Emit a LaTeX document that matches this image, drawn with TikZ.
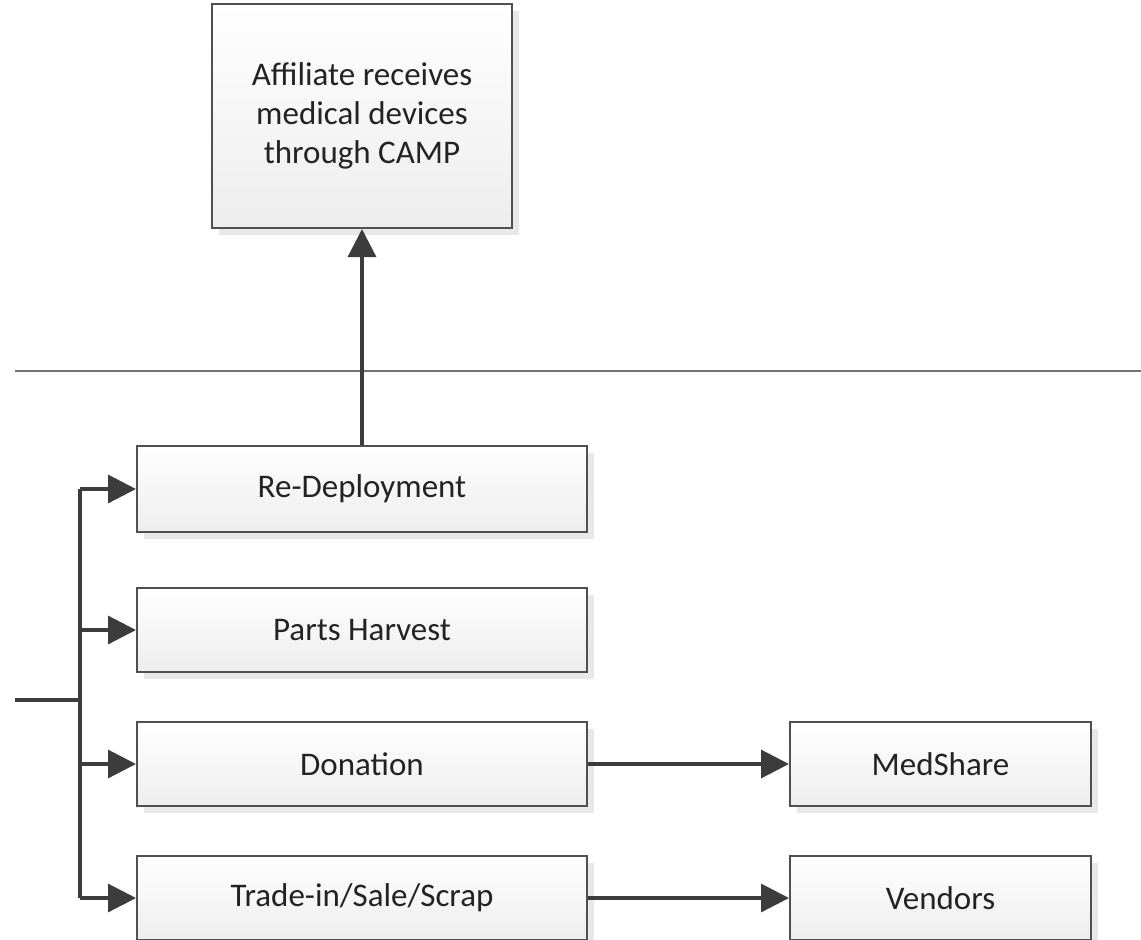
\documentclass[tikz,border=0pt]{standalone}
\usepackage{fontspec}
\setmainfont{Carlito}
\usepackage{xcolor}
\usepackage{tikz}
\usetikzlibrary{arrows.meta, positioning, shadows}
\definecolor{boxline}{RGB}{80, 80, 80}
\definecolor{arrowgray}{RGB}{60, 60, 60}
\definecolor{textgray}{RGB}{35, 35, 35}
\definecolor{rulegray}{RGB}{115, 115, 115}

\begin{document}
\begin{tikzpicture}[x=0.5pt, y=-0.5pt,
    box/.style={draw=boxline, line width=1pt, top color=white, bottom color=black!7,
        text=textgray, align=center, font=\fontsize{16.5}{19.5}\selectfont,
        drop shadow={fill=black!9, opacity=1, shadow xshift=3.5pt, shadow yshift=-3.5pt}},
    arr/.style={draw=arrowgray, line width=1.6pt, -{Triangle[length=14pt, width=14pt]}},
    trunkline/.style={draw=arrowgray, line width=1.6pt}]
    \clip (0,0) rectangle (1141,939);
    \fill[white] (0,0) rectangle (1141,939);

    \node[box, minimum width=150pt, minimum height=112pt] (affiliate) at (362,116) {Affiliate receives\\medical devices\\through CAMP};
    \node[box, minimum width=225pt, minimum height=43pt, below=108pt of affiliate] (redeploy) {Re-Deployment};
    \node[box, minimum width=225pt, minimum height=42pt, below=27pt of redeploy] (parts) {Parts Harvest};
    \node[box, minimum width=225pt, minimum height=42pt, below=24pt of parts] (donation) {Donation};
    \node[box, minimum width=225pt, minimum height=42pt, below=24pt of donation] (trade) {Trade-in/Sale/Scrap};
    \node[box, minimum width=150.5pt, minimum height=42pt, right=100.5pt of donation] (medshare) {MedShare};
    \node[box, minimum width=150.5pt, minimum height=42pt, right=100.5pt of trade] (vendors) {Vendors};

    \draw[draw=rulegray, line width=1pt] (15,371) -- (1141,371);

    \coordinate (feed) at (15,700);
    \coordinate (fork) at (80,700);
    \draw[trunkline] (feed) -- (fork);
    \draw[trunkline] (fork |- redeploy.west) -- (fork |- trade.west);
    \foreach \n in {redeploy, parts, donation, trade}
        \draw[arr] (fork |- \n.west) -- (\n.west);

    \draw[arr] (redeploy.north) -- (affiliate.south);
    \draw[arr] (donation.east) -- (medshare.west);
    \draw[arr] (trade.east) -- (vendors.west);
\end{tikzpicture}
\end{document}
